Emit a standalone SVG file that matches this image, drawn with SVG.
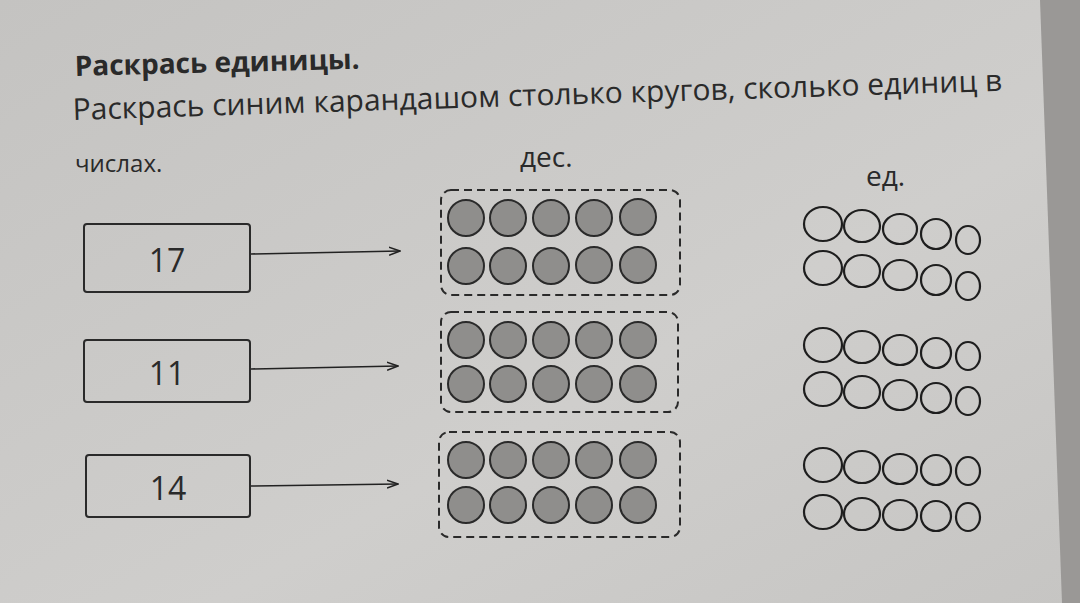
<svg xmlns="http://www.w3.org/2000/svg" width="1080" height="603" viewBox="0 0 1080 603">
<defs>
<linearGradient id="bg" x1="0" y1="0" x2="1" y2="1"><stop offset="0" stop-color="#c4c3c1"/><stop offset="0.6" stop-color="#cfcecc"/><stop offset="1" stop-color="#c6c5c3"/></linearGradient>
<marker id="ah" viewBox="0 0 12 10" refX="11" refY="5" markerWidth="12" markerHeight="10" markerUnits="userSpaceOnUse" orient="auto"><path d="M0,1 L11,5 L0,9" fill="none" stroke="#222" stroke-width="1.5"/></marker>
</defs>
<style>
text{font-family:"Open Sans","Noto Sans",sans-serif;fill:#2a2a2a}
.num{font-size:32px;text-anchor:middle}
.box{fill:none;stroke:#2a2a2a;stroke-width:2}
.dash{fill:none;stroke:#2a2a2a;stroke-width:2;stroke-dasharray:8 5}
.g{fill:#8f8e8c;stroke:#2a2a2a;stroke-width:2}
.o{fill:none;stroke:#1e1e1e;stroke-width:2.2}
.arr{stroke:#222;stroke-width:1.6;fill:none;marker-end:url(#ah)}
</style>
<rect width="1080" height="603" fill="url(#bg)"/>
<polygon points="1040,0 1080,0 1080,603 1062,603" fill="#9a9896"/>
<text x="75" y="76" font-size="28" font-weight="bold" transform="rotate(-1.5 75 76)">Раскрась единицы.</text>
<text x="73" y="120" font-size="30" transform="rotate(-1.8 73 120)">Раскрась синим карандашом столько кругов, сколько единиц в</text>
<text x="75" y="172" font-size="24">числах.</text>
<text x="520" y="167" font-size="28">дес.</text>
<text x="866" y="186" font-size="28">ед.</text>
<g id="n17"><rect class="box" x="84" y="224" width="166" height="68" rx="3"/><text class="num" x="167" y="272">17</text></g>
<g id="n11"><rect class="box" x="84" y="340" width="166" height="62" rx="3"/><text class="num" x="167" y="385">11</text></g>
<g id="n14"><rect class="box" x="86" y="455" width="164" height="62" rx="3"/><text class="num" x="168" y="500">14</text></g>
<g id="connectors">
<line class="arr" x1="251" y1="254" x2="400" y2="251"/>
<line class="arr" x1="251" y1="369" x2="398" y2="366"/>
<line class="arr" x1="251" y1="486" x2="398" y2="484"/>
</g>
<g id="tens1"><rect class="dash" x="441" y="190" width="239" height="105" rx="10"/>
<circle class="g" cx="466" cy="218" r="18"/><circle class="g" cx="508" cy="218" r="18"/><circle class="g" cx="551" cy="218" r="18"/><circle class="g" cx="594" cy="218" r="18"/><circle class="g" cx="638" cy="217" r="18"/>
<circle class="g" cx="466" cy="266" r="18"/><circle class="g" cx="508" cy="266" r="18"/><circle class="g" cx="551" cy="266" r="18"/><circle class="g" cx="594" cy="265" r="18"/><circle class="g" cx="638" cy="265" r="18"/></g>
<g id="tens2"><rect class="dash" x="441" y="312" width="237" height="100" rx="10"/>
<circle class="g" cx="466" cy="340" r="18"/><circle class="g" cx="508" cy="340" r="18"/><circle class="g" cx="551" cy="340" r="18"/><circle class="g" cx="594" cy="340" r="18"/><circle class="g" cx="638" cy="340" r="18"/>
<circle class="g" cx="466" cy="384" r="18"/><circle class="g" cx="508" cy="384" r="18"/><circle class="g" cx="551" cy="384" r="18"/><circle class="g" cx="594" cy="384" r="18"/><circle class="g" cx="638" cy="384" r="18"/></g>
<g id="tens3"><rect class="dash" x="439" y="432" width="241" height="105" rx="10"/>
<circle class="g" cx="466" cy="460" r="18"/><circle class="g" cx="508" cy="460" r="18"/><circle class="g" cx="551" cy="460" r="18"/><circle class="g" cx="594" cy="460" r="18"/><circle class="g" cx="638" cy="460" r="18"/>
<circle class="g" cx="466" cy="505" r="18"/><circle class="g" cx="508" cy="505" r="18"/><circle class="g" cx="551" cy="505" r="18"/><circle class="g" cx="594" cy="505" r="18"/><circle class="g" cx="638" cy="505" r="18"/></g>
<g id="units1">
<ellipse class="o" cx="823" cy="224" rx="19" ry="17"/><ellipse class="o" cx="862" cy="226" rx="18" ry="16"/><ellipse class="o" cx="900" cy="229" rx="17" ry="15"/><ellipse class="o" cx="936" cy="234" rx="15" ry="15"/><ellipse class="o" cx="968" cy="240" rx="12" ry="14"/>
<ellipse class="o" cx="823" cy="268" rx="19" ry="17"/><ellipse class="o" cx="862" cy="271" rx="18" ry="16"/><ellipse class="o" cx="900" cy="275" rx="17" ry="15"/><ellipse class="o" cx="936" cy="280" rx="15" ry="15"/><ellipse class="o" cx="968" cy="286" rx="12" ry="14"/></g>
<g id="units2">
<ellipse class="o" cx="823" cy="345" rx="19" ry="17"/><ellipse class="o" cx="862" cy="347" rx="18" ry="16"/><ellipse class="o" cx="900" cy="350" rx="17" ry="15"/><ellipse class="o" cx="936" cy="353" rx="15" ry="15"/><ellipse class="o" cx="968" cy="356" rx="12" ry="14"/>
<ellipse class="o" cx="823" cy="389" rx="19" ry="17"/><ellipse class="o" cx="862" cy="392" rx="18" ry="16"/><ellipse class="o" cx="900" cy="395" rx="17" ry="15"/><ellipse class="o" cx="936" cy="398" rx="15" ry="15"/><ellipse class="o" cx="968" cy="401" rx="12" ry="14"/></g>
<g id="units3">
<ellipse class="o" cx="823" cy="465" rx="19" ry="17"/><ellipse class="o" cx="862" cy="467" rx="18" ry="16"/><ellipse class="o" cx="900" cy="469" rx="17" ry="15"/><ellipse class="o" cx="936" cy="470" rx="15" ry="15"/><ellipse class="o" cx="968" cy="471" rx="12" ry="14"/>
<ellipse class="o" cx="823" cy="512" rx="19" ry="17"/><ellipse class="o" cx="862" cy="514" rx="18" ry="16"/><ellipse class="o" cx="900" cy="515" rx="17" ry="15"/><ellipse class="o" cx="936" cy="516" rx="15" ry="15"/><ellipse class="o" cx="968" cy="517" rx="12" ry="14"/></g>
</svg>
